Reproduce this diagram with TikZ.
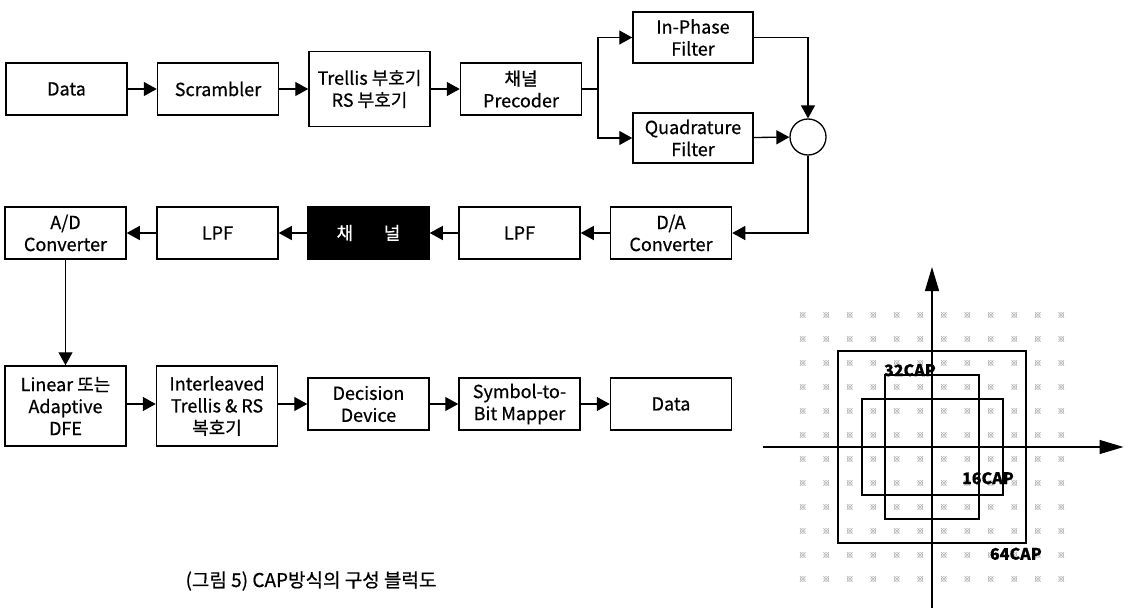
\documentclass[tikz,border=0pt]{standalone}
\usepackage{fontspec}
\setmainfont{Noto Sans CJK KR}[FakeBold=0.6]
\usetikzlibrary{arrows.meta}

\begin{document}
\begin{tikzpicture}[x=1pt, y=-1pt,
    blk/.style={draw, line width=1.5pt, minimum width=121pt, minimum height=52pt,
                align=center, inner sep=0pt, font=\fontsize{18}{22}\selectfont},
    tall/.style={blk, minimum height=80pt},
    arr/.style={line width=1.3pt, -{Triangle[length=13pt, width=14pt]}},
    wire/.style={line width=1.3pt},
    cbox/.style={line width=2pt},
    axis/.style={line width=1.3pt, -{Triangle[length=24pt, width=14pt]}},
    tag/.style={font=\fontsize{16}{16}\selectfont\bfseries, inner sep=0pt}
]
    \useasboundingbox (0,0) rectangle (1130,610);

    % transmitter
    \node[blk] (data) at (66.5,89) {Data};
    \node[blk] (scr) at (218,89) {Scrambler};
    \node[blk, minimum height=75pt] (trel) at (369.5,89) {Trellis 부호기\\RS 부호기};
    \node[blk] (pre) at (521,89) {채널\\Precoder};
    \node[blk, minimum width=120pt, minimum height=51pt] (inph) at (693,37.5) {In-Phase\\Filter};
    \node[blk, minimum width=120pt, minimum height=50pt] (quad) at (693,138) {Quadrature\\Filter};
    \node[draw, circle, line width=1.3pt, minimum size=36pt, inner sep=0pt] (sum) at (808,137) {};
    \coordinate (fork) at (598,89);

    \draw[arr] (data) -- (scr);
    \draw[arr] (scr) -- (trel);
    \draw[arr] (trel) -- (pre);
    \draw[wire] (pre) -- (fork);
    \draw[arr] (fork) |- (inph.west);
    \draw[arr] (fork) |- (quad.west);
    \draw[arr] (inph.east) -| (sum.north);
    \draw[arr] (quad) -- (sum);

    % channel
    \node[blk] (da) at (671,233) {D/A\\Converter};
    \node[blk] (lpfb) at (519.5,233) {LPF};
    \node[blk, fill=black, text=white] (chan) at (368.5,233) {채\hspace{1.7em}널};
    \node[blk] (lpfa) at (217.5,233) {LPF};
    \node[blk] (ad) at (65.5,233) {A/D\\Converter};

    \draw[arr] (sum.south) |- (da.east);
    \draw[arr] (da) -- (lpfb);
    \draw[arr] (lpfb) -- (chan);
    \draw[arr] (chan) -- (lpfa);
    \draw[arr] (lpfa) -- (ad);

    % receiver
    \node[tall] (lin) at (65.5,406) {Linear 또는\\Adaptive\\DFE};
    \node[tall] (intl) at (217,406) {Interleaved\\Trellis \& RS\\복호기};
    \node[blk] (dec) at (368.5,404) {Decision\\Device};
    \node[blk] (sym) at (519.5,404) {Symbol-to-\\Bit Mapper};
    \node[blk] (out) at (671,404) {Data};

    \draw[arr] (ad) -- (lin);
    \draw[arr] (lin.east |- dec) -- (intl.west |- dec);
    \draw[arr] (intl.east |- dec) -- (dec);
    \draw[arr] (dec) -- (sym);
    \draw[arr] (sym) -- (out);

    \node[font=\fontsize{19}{22}\selectfont] (cap) at (311,581) {(그림 5) CAP방식의 구성 블럭도};

    % constellation
    \begin{scope}[shift={(932,447)}, x=23.5pt, y=-24pt]
        \foreach \i in {-5.5,-4.5,...,5.5}
            \foreach \j in {-5.5,-4.5,...,5.5} {
                \draw[gray!60, line width=0.6pt] (\i,\j) circle (2.4pt);
                \draw[gray!60, line width=0.6pt] (\i,\j) ++(-2.8pt,-2.8pt) -- ++(5.6pt,5.6pt)
                    ++(-5.6pt,0pt) -- ++(5.6pt,-5.6pt);
            }
        \draw[axis] (-7.2,0) -- (8.15,0);
        \draw[axis] (0,6.7) -- (0,-7.5);
        \draw[cbox] (-4,-4) rectangle (4,4);
        \draw[cbox] (-2,-2) rectangle (2,2);
        \draw[cbox] (-2,-3) rectangle (2,-2);
        \draw[cbox] (-2,2) rectangle (2,3);
        \draw[cbox] (-3,-2) rectangle (-2,2);
        \draw[cbox] (2,-2) rectangle (3,2);
        \node[tag] at (-0.94,-3.2) {32CAP};
        \node[tag] at (2.38,1.3) {16CAP};
        \node[tag] at (3.57,4.45) {64CAP};
    \end{scope}
\end{tikzpicture}
\end{document}
